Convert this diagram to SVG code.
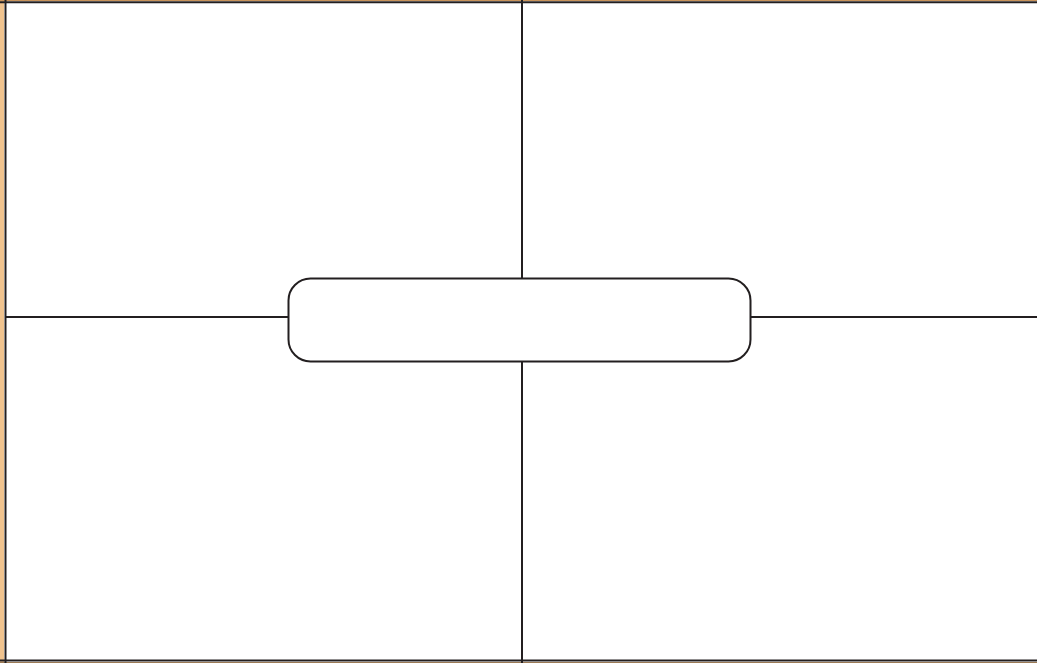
<svg xmlns="http://www.w3.org/2000/svg" width="1037" height="663" viewBox="0 0 1037 663">
<style>
.ln{stroke:#231f20;stroke-width:2;fill:none}
</style>
<rect x="0" y="0" width="1037" height="663" fill="#ffffff"/>
<rect x="0" y="0" width="4" height="663" fill="#f0c38e"/>
<rect x="0" y="0" width="1037" height="1" fill="#c9935a"/>
<rect x="0" y="662" width="1037" height="1" fill="#9c7a55"/>
<g id="frame">
<line class="ln" x1="5.5" y1="0" x2="5.5" y2="663" stroke-width="3"/>
<line class="ln" x1="0" y1="2.2" x2="1037" y2="2.2" stroke-width="2.4"/>
<line class="ln" x1="0" y1="660.5" x2="1037" y2="660.5" stroke-width="3"/>
</g>
<g id="connectors">
<line class="ln" x1="522" y1="0" x2="522" y2="278"/>
<line class="ln" x1="522" y1="362" x2="522" y2="663"/>
<line class="ln" x1="5" y1="317" x2="288.5" y2="317"/>
<line class="ln" x1="750.5" y1="317" x2="1037" y2="317"/>
</g>
<g id="center">
<rect class="ln" x="288.5" y="278.5" width="462" height="83" rx="22" ry="22" fill="#ffffff" stroke-width="2.2"/>
</g>
</svg>
